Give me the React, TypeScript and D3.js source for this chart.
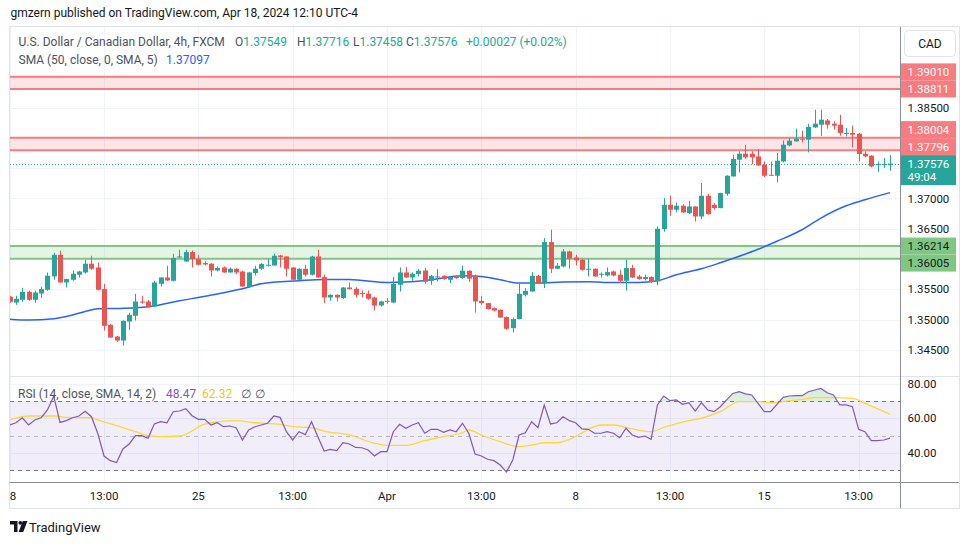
import React from 'react';
import * as d3 from 'd3';

// ---- data (USD/CAD 4h, FXCM) ----
const opens = [
  1.35376, 1.35281, 1.35326, 1.35458, 1.35326, 1.35430, 1.35491, 1.35712, 1.36070, 1.35613,
  1.35657, 1.35740, 1.35778, 1.35922, 1.35860, 1.35503, 1.34913, 1.34719, 1.34653, 1.34967,
  1.35062, 1.35298, 1.35298, 1.35215, 1.35590, 1.35695, 1.35640, 1.36026, 1.35960, 1.36115,
  1.35999, 1.35933, 1.35922, 1.35811, 1.35860, 1.35778, 1.35839, 1.35794, 1.35536, 1.35768,
  1.35839, 1.35889, 1.35893, 1.36059, 1.36042, 1.35860, 1.35657, 1.35839, 1.35740, 1.36042,
  1.35702, 1.35364, 1.35409, 1.35354, 1.35529, 1.35508, 1.35437, 1.35425, 1.35364, 1.35232,
  1.35309, 1.35281, 1.35574, 1.35778, 1.35695, 1.35751, 1.35811, 1.35640, 1.35702, 1.35723,
  1.35657, 1.35712, 1.35685, 1.35806, 1.35728, 1.35309, 1.35271, 1.35189, 1.35161, 1.35040,
  1.34858, 1.35007, 1.35409, 1.35463, 1.35723, 1.35602, 1.36280, 1.35839, 1.35877, 1.36125,
  1.36026, 1.35988, 1.35822, 1.35839, 1.35740, 1.35728, 1.35794, 1.35740, 1.35640, 1.35851,
  1.35712, 1.35669, 1.35702, 1.35629, 1.36495, 1.36896, 1.36814, 1.36880, 1.36759, 1.36868,
  1.36703, 1.37045, 1.36896, 1.36842, 1.37078, 1.37365, 1.37641, 1.37740, 1.37740, 1.37695,
  1.37558, 1.37392, 1.37376, 1.37612, 1.37877, 1.37943, 1.37988, 1.37971, 1.38174, 1.38219,
  1.38290, 1.38236, 1.38219, 1.38070, 1.38082, 1.38070, 1.37740, 1.37707, 1.37558, 1.37558,
  1.37549,
];
const highs = [
  1.35392, 1.35392, 1.35524, 1.35475, 1.35475, 1.35541, 1.35777, 1.36103, 1.36136, 1.35675,
  1.35811, 1.35806, 1.35988, 1.36054, 1.35943, 1.35590, 1.34929, 1.34730, 1.34985, 1.35111,
  1.35425, 1.35392, 1.35326, 1.35640, 1.35700, 1.35889, 1.36087, 1.36153, 1.36153, 1.36141,
  1.36070, 1.35960, 1.35933, 1.35877, 1.35877, 1.35860, 1.35847, 1.35806, 1.35789, 1.35889,
  1.35933, 1.35999, 1.36087, 1.36070, 1.36046, 1.35866, 1.35847, 1.35905, 1.36054, 1.36153,
  1.35740, 1.35417, 1.35417, 1.35536, 1.35612, 1.35536, 1.35480, 1.35480, 1.35376, 1.35309,
  1.35354, 1.35702, 1.35860, 1.35866, 1.35778, 1.35834, 1.35850, 1.35740, 1.35834, 1.35728,
  1.35712, 1.35728, 1.35889, 1.35814, 1.35740, 1.35392, 1.35276, 1.35199, 1.35166, 1.35050,
  1.35033, 1.35590, 1.35520, 1.35784, 1.35740, 1.36346, 1.36484, 1.35933, 1.36165, 1.36136,
  1.36070, 1.35999, 1.35999, 1.35847, 1.35778, 1.35860, 1.35811, 1.35822, 1.35988, 1.35905,
  1.35740, 1.35740, 1.35712, 1.36538, 1.37007, 1.37045, 1.36934, 1.36908, 1.36962, 1.36872,
  1.37255, 1.37078, 1.36924, 1.37095, 1.37384, 1.37723, 1.37778, 1.37889, 1.37778, 1.37818,
  1.37612, 1.37612, 1.37751, 1.37960, 1.37999, 1.38153, 1.38120, 1.38236, 1.38467, 1.38467,
  1.38313, 1.38274, 1.38384, 1.38164, 1.38203, 1.38082, 1.37778, 1.37715, 1.37612, 1.37669,
  1.37716,
];
const lows = [
  1.35276, 1.35243, 1.35293, 1.35309, 1.35276, 1.35359, 1.35475, 1.35657, 1.35608, 1.35530,
  1.35640, 1.35695, 1.35756, 1.35822, 1.35483, 1.34819, 1.34698, 1.34632, 1.34571, 1.34830,
  1.34984, 1.35260, 1.35200, 1.35205, 1.35546, 1.35640, 1.35629, 1.36016, 1.35955, 1.35860,
  1.35897, 1.35893, 1.35712, 1.35794, 1.35772, 1.35772, 1.35751, 1.35540, 1.35525, 1.35728,
  1.35822, 1.35877, 1.35888, 1.35860, 1.35712, 1.35652, 1.35629, 1.35712, 1.35728, 1.35690,
  1.35271, 1.35309, 1.35298, 1.35343, 1.35499, 1.35364, 1.35364, 1.35326, 1.35149, 1.35215,
  1.35260, 1.35271, 1.35463, 1.35690, 1.35640, 1.35712, 1.35590, 1.35574, 1.35629, 1.35657,
  1.35603, 1.35675, 1.35675, 1.35620, 1.35116, 1.35243, 1.35166, 1.35133, 1.35028, 1.34830,
  1.34786, 1.35004, 1.35381, 1.35458, 1.35590, 1.35520, 1.35768, 1.35834, 1.35860, 1.35839,
  1.35893, 1.35806, 1.35712, 1.35707, 1.35695, 1.35712, 1.35712, 1.35602, 1.35480, 1.35685,
  1.35657, 1.35646, 1.35602, 1.35563, 1.36451, 1.36715, 1.36770, 1.36759, 1.36743, 1.36620,
  1.36660, 1.36731, 1.36814, 1.36838, 1.37045, 1.37360, 1.37431, 1.37657, 1.37570, 1.37541,
  1.37355, 1.37371, 1.37266, 1.37596, 1.37860, 1.37943, 1.37926, 1.37761, 1.38164, 1.38037,
  1.38153, 1.38137, 1.38037, 1.38026, 1.37844, 1.37612, 1.37679, 1.37513, 1.37439, 1.37504,
  1.37458,
];
const closes = [
  1.35293, 1.35343, 1.35458, 1.35326, 1.35447, 1.35503, 1.35723, 1.36070, 1.35613, 1.35669,
  1.35756, 1.35794, 1.35922, 1.35839, 1.35491, 1.34896, 1.34703, 1.34653, 1.34979, 1.35078,
  1.35298, 1.35281, 1.35205, 1.35612, 1.35695, 1.35646, 1.36016, 1.36042, 1.36115, 1.35999,
  1.35905, 1.35910, 1.35811, 1.35851, 1.35778, 1.35839, 1.35778, 1.35546, 1.35778, 1.35839,
  1.35917, 1.35905, 1.36054, 1.36032, 1.35839, 1.35657, 1.35839, 1.35740, 1.36042, 1.35695,
  1.35364, 1.35409, 1.35364, 1.35529, 1.35503, 1.35409, 1.35425, 1.35343, 1.35232, 1.35298,
  1.35298, 1.35590, 1.35778, 1.35695, 1.35756, 1.35806, 1.35623, 1.35723, 1.35712, 1.35669,
  1.35702, 1.35685, 1.35806, 1.35675, 1.35298, 1.35271, 1.35172, 1.35149, 1.35033, 1.34847,
  1.35007, 1.35425, 1.35475, 1.35723, 1.35602, 1.36280, 1.35839, 1.35889, 1.36125, 1.36004,
  1.35976, 1.35822, 1.35839, 1.35712, 1.35756, 1.35784, 1.35728, 1.35640, 1.35851, 1.35695,
  1.35669, 1.35702, 1.35619, 1.36500, 1.36896, 1.36814, 1.36880, 1.36770, 1.36868, 1.36703,
  1.37045, 1.36743, 1.36842, 1.37090, 1.37376, 1.37652, 1.37740, 1.37679, 1.37679, 1.37546,
  1.37376, 1.37376, 1.37624, 1.37889, 1.37955, 1.37988, 1.37971, 1.38181, 1.38236, 1.38302,
  1.38219, 1.38203, 1.38082, 1.38082, 1.38054, 1.37735, 1.37695, 1.37530, 1.37570, 1.37570,
  1.37576,
];
// SMA(50) read at candle indices: [index, value]
const smaPoints: [number, number][] = [
  [0, 1.35007], [3, 1.34991], [7, 1.35012], [9, 1.35050], [12, 1.35132], [14, 1.35178],
  [17, 1.35183], [20, 1.35194], [22, 1.35211], [24, 1.35244], [27, 1.35310], [30, 1.35365],
  [33, 1.35421], [37, 1.35508], [40, 1.35591], [46, 1.35640], [50, 1.35662], [54, 1.35662],
  [56, 1.35645], [60, 1.35612], [63, 1.35619], [67, 1.35657], [72, 1.35723], [75, 1.35712],
  [78, 1.35657], [81, 1.35602], [84, 1.35602], [88, 1.35619], [92, 1.35624], [96, 1.35612],
  [100, 1.35612], [103, 1.35640], [106, 1.35740], [110, 1.35839], [113, 1.35938], [116, 1.36045],
  [119, 1.36161], [122, 1.36293], [126, 1.36483], [129, 1.36677], [133, 1.36880], [136, 1.36979],
  [140, 1.37097],
];
const rsiValues = [
  56.1, 57.4, 60.3, 56.1, 59.0, 60.3, 64.8, 72.9, 57.6, 58.6,
  60.3, 61.3, 64.0, 60.9, 51.3, 38.1, 35.4, 34.3, 42.2, 45.1,
  49.9, 49.9, 48.4, 56.7, 58.0, 57.4, 63.8, 64.2, 65.6, 61.5,
  59.4, 59.4, 56.1, 57.4, 55.1, 55.5, 54.5, 47.4, 53.2, 55.1,
  56.1, 57.1, 61.3, 60.5, 52.2, 47.4, 52.2, 50.5, 58.0, 49.3,
  41.0, 42.0, 41.2, 45.8, 45.1, 43.1, 42.9, 41.6, 38.1, 40.6,
  40.6, 52.2, 56.5, 54.2, 56.1, 57.4, 51.3, 53.6, 53.6, 51.8,
  53.2, 52.2, 57.1, 51.3, 39.3, 38.1, 36.2, 35.4, 32.9, 28.8,
  35.8, 50.3, 51.6, 58.0, 54.5, 67.7, 56.7, 57.4, 60.9, 58.6,
  57.4, 53.8, 53.6, 51.3, 51.3, 52.2, 51.3, 48.7, 54.2, 50.3,
  48.9, 49.7, 47.8, 67.7, 72.9, 70.2, 70.6, 68.1, 69.0, 64.2,
  69.0, 64.8, 63.8, 66.7, 70.6, 74.4, 75.4, 74.1, 73.5, 68.6,
  63.8, 63.8, 68.1, 72.1, 72.9, 73.1, 73.1, 75.4, 76.4, 77.3,
  74.8, 73.5, 67.7, 67.7, 66.7, 53.6, 52.2, 47.0, 47.0, 47.4,
  48.47,
];
// RSI-based SMA(14) read at candle indices
const rsiSmaPoints: [number, number][] = [
  [0, 59.0], [3, 61.3], [7, 61.3], [9, 60.5], [13, 60.3], [14, 59.0], [17, 55.7], [20, 52.2],
  [22, 49.9], [24, 49.3], [27, 49.7], [29, 52.6], [30, 55.1], [32, 57.4], [36, 58.6], [39, 57.4],
  [43, 56.5], [45, 55.1], [48, 54.5], [50, 52.6], [54, 50.3], [58, 45.5], [60, 44.3], [63, 44.3],
  [66, 47.0], [69, 49.3], [72, 51.6], [73, 53.2], [75, 50.3], [78, 46.4], [81, 43.5], [83, 44.5],
  [85, 45.8], [87, 45.8], [90, 49.3], [92, 53.6], [94, 56.1], [96, 56.1], [98, 54.7], [102, 52.2],
  [104, 54.7], [108, 58.6], [110, 60.0], [113, 63.8], [116, 69.6], [119, 69.6], [121, 69.0],
  [123, 69.6], [126, 70.9], [128, 71.9], [131, 71.9], [134, 71.5], [136, 68.6], [140, 62.3],
];
const timeTickIndex = [0, 15, 30, 45, 60, 75, 90, 105, 120, 135];
const timeTickLabels = ['18', '13:00', '25', '13:00', 'Apr', '13:00', '8', '13:00', '15', '13:00'];
const priceTicks = [1.345, 1.35, 1.355, 1.36, 1.365, 1.37, 1.375, 1.38, 1.385, 1.39];
const rsiTicks = [80, 60, 40];
const rsiLevels = [70, 50, 30];
const redZones: [number, number][] = [[1.38811, 1.39010], [1.37796, 1.38004]];
const greenZones: [number, number][] = [[1.36005, 1.36214]];
const lastPrice = 1.37576;
const countdown = '49:04';
const smaLast = '1.37097';
const rsiLast = '48.47';
const rsiSmaLast = '62.32';

const FONT = "Roboto, 'Noto Sans', 'Liberation Sans', sans-serif";
const UP = '#26a69a';
const DOWN = '#ef5350';
const GRID = '#f0f3fa';
const TEXT = '#131722';

export default function App() {
  const L = 10, R = 900, mainTop = 27, mainBottom = 376.5, rsiTop = 377, rsiBottom = 482;
  const x = d3.scaleLinear().domain([0, 140]).range([9.7, 890.1]);
  const y = d3.scaleLinear().domain([1.345, 1.385]).range([349.8, 107.7]);
  const yr = d3.scaleLinear().domain([30, 70]).range([470, 401]);
  const fmt = d3.format('.5f');

  const smaLine = d3.line<[number, number]>().x(d => x(d[0])).y(d => y(d[1])).curve(d3.curveMonotoneX);
  const rsiLine = d3.line<number>().x((d, i) => x(i)).y(d => yr(d));
  const rsiSmaLine = d3.line<[number, number]>().x(d => x(d[0])).y(d => yr(d[1])).curve(d3.curveMonotoneX);
  const rsiArea = d3.area<number>().x((d, i) => x(i)).y0(yr(70)).y1(d => yr(d));
  const rsiAreaLow = d3.area<number>().x((d, i) => x(i)).y0(yr(30)).y1(d => yr(d));

  // price-axis label layout
  const H = 17;
  const curC = y(lastPrice);
  const curTop = curC - H / 2;
  const curBottom = curTop + 30;
  type Lab = { c: number; text: string; bg: string; fg: string };
  const labs: Lab[] = [];
  const above = redZones.flat().filter(p => p > lastPrice).sort((a, b) => a - b);
  let prevTop = curTop;
  above.forEach(p => {
    let c = y(p);
    if (c + H / 2 > prevTop) c = prevTop - H / 2;
    prevTop = c - H / 2;
    labs.push({ c, text: fmt(p), bg: '#f77c80', fg: '#ffffff' });
  });
  const below = greenZones.flat().filter(p => p < lastPrice).sort((a, b) => b - a);
  let prevBottom = curBottom;
  below.forEach(p => {
    let c = y(p);
    if (c - H / 2 < prevBottom) c = prevBottom + H / 2;
    prevBottom = c + H / 2;
    labs.push({ c, text: fmt(p), bg: '#81c784', fg: TEXT });
  });
  const boxes = labs.map(l => [l.c - H / 2, l.c + H / 2]).concat([[curTop, curBottom]]);
  const visibleTicks = priceTicks.filter(t => {
    const ty = y(t);
    if (ty < mainTop + 6 || ty > mainBottom - 6) return false;
    return !boxes.some(([a, b]) => ty + 6 > a && ty - 6 < b);
  });

  return (
    <div style={{ position: 'absolute', left: 0, top: 0, width: 970, height: 545, background: '#fff' }}>
      <svg width={970} height={545} style={{ display: 'block', fontFamily: FONT }}>
        <defs>
          <clipPath id="mainClip"><rect x={L} y={mainTop} width={R - L} height={mainBottom - mainTop} /></clipPath>
          <clipPath id="rsiClip"><rect x={L} y={rsiTop} width={R - L} height={rsiBottom - rsiTop} /></clipPath>
          <clipPath id="rsiHigh"><rect x={L} y={rsiTop} width={R - L} height={yr(70) - rsiTop} /></clipPath>
          <clipPath id="rsiLow"><rect x={L} y={yr(30)} width={R - L} height={rsiBottom - yr(30)} /></clipPath>
          <clipPath id="timeClip"><rect x={L} y={rsiBottom} width={R - L} height={27} /></clipPath>
          <linearGradient id="gHigh" x1="0" y1="0" x2="0" y2="1">
            <stop offset="0%" stopColor="rgba(76,175,80,0.22)" />
            <stop offset="100%" stopColor="rgba(76,175,80,0.02)" />
          </linearGradient>
          <linearGradient id="gLow" x1="0" y1="0" x2="0" y2="1">
            <stop offset="0%" stopColor="rgba(242,54,69,0.02)" />
            <stop offset="100%" stopColor="rgba(242,54,69,0.22)" />
          </linearGradient>
        </defs>
        <rect x={0} y={0} width={970} height={545} fill="#fff" />

        {/* publisher header */}
        <text x={10.5} y={17} fontSize={12} fill={TEXT}>gmzern published on TradingView.com, Apr 18, 2024 12:10 UTC-4</text>

        {/* grid */}
        {priceTicks.map(t => (
          <line key={'pg' + t} x1={L} x2={R} y1={Math.round(y(t)) + 0.5} y2={Math.round(y(t)) + 0.5} stroke={GRID} />
        ))}
        {rsiTicks.map(t => (
          <line key={'rg' + t} x1={L} x2={R} y1={Math.round(yr(t)) + 0.5} y2={Math.round(yr(t)) + 0.5} stroke={GRID} />
        ))}
        {timeTickIndex.map(i => (
          <line key={'vg' + i} x1={Math.round(x(i)) + 0.5} x2={Math.round(x(i)) + 0.5} y1={mainTop} y2={rsiBottom} stroke={GRID} />
        ))}

        {/* main pane */}
        <g clipPath="url(#mainClip)">
          {redZones.map(([a, b], k) => (
            <g key={'rz' + k}>
              <rect x={L} width={R - L} y={y(b)} height={y(a) - y(b)} fill="rgba(247,124,128,0.2)" />
              <line x1={L} x2={R} y1={y(b)} y2={y(b)} stroke="#f77c80" strokeWidth={2} />
              <line x1={L} x2={R} y1={y(a)} y2={y(a)} stroke="#f77c80" strokeWidth={2} />
            </g>
          ))}
          {greenZones.map(([a, b], k) => (
            <g key={'gz' + k}>
              <rect x={L} width={R - L} y={y(b)} height={y(a) - y(b)} fill="rgba(129,199,132,0.2)" />
              <line x1={L} x2={R} y1={y(b)} y2={y(b)} stroke="#81c784" strokeWidth={2} />
              <line x1={L} x2={R} y1={y(a)} y2={y(a)} stroke="#81c784" strokeWidth={2} />
            </g>
          ))}
          <line x1={L} x2={R} y1={Math.round(curC) + 0.5} y2={Math.round(curC) + 0.5} stroke={UP} strokeDasharray="1,2" />
          <path d={smaLine(smaPoints) || ''} fill="none" stroke="#2962ff" strokeWidth={1.5} />
          {opens.map((o, i) => {
            const c = closes[i];
            const col = c >= o ? UP : DOWN;
            const cx = Math.round(x(i));
            const top = y(Math.max(o, c));
            const hgt = Math.max(1, Math.abs(y(o) - y(c)));
            return (
              <g key={'c' + i}>
                <line x1={cx + 0.5} x2={cx + 0.5} y1={y(highs[i])} y2={y(lows[i])} stroke={col} strokeWidth={1} />
                <rect x={cx - 2} y={top} width={5} height={hgt} fill={col} />
              </g>
            );
          })}
        </g>

        {/* main legend */}
        <text y={46} fontSize={12} fill="#4c525e">
          <tspan x={18.5}>U.S. Dollar / Canadian Dollar, 4h, FXCM</tspan>
          <tspan x={235}>O</tspan><tspan fill="#22ab94">{fmt(opens[140])}</tspan>
          <tspan x={297}>H</tspan><tspan fill="#22ab94">{fmt(highs[140])}</tspan>
          <tspan x={353}>L</tspan><tspan fill="#22ab94">{fmt(lows[140])}</tspan>
          <tspan x={406}>C</tspan><tspan fill="#22ab94">{fmt(closes[140])}</tspan>
          <tspan x={466} fill="#22ab94">+0.00027 (+0.02%)</tspan>
        </text>
        <text y={64} fontSize={12} fill="#4c525e">
          <tspan x={18.5}>SMA (50, close, 0, SMA, 5)</tspan>
          <tspan x={166} fill="#2962ff">{smaLast}</tspan>
        </text>

        {/* pane separator */}
        <line x1={L} x2={959} y1={376.5} y2={376.5} stroke="#e0e3eb" />

        {/* RSI pane */}
        <rect x={L} width={R - L} y={yr(70)} height={yr(30) - yr(70)} fill="rgba(126,87,194,0.1)" />
        {rsiLevels.map(lv => (
          <line key={'lv' + lv} x1={L} x2={R} y1={Math.round(yr(lv)) + 0.5} y2={Math.round(yr(lv)) + 0.5}
            stroke={lv === 50 ? 'rgba(120,123,134,0.5)' : '#787b86'} strokeDasharray="4,4" />
        ))}
        <g clipPath="url(#rsiClip)">
          <path d={rsiArea(rsiValues) || ''} fill="url(#gHigh)" clipPath="url(#rsiHigh)" />
          <path d={rsiAreaLow(rsiValues) || ''} fill="url(#gLow)" clipPath="url(#rsiLow)" />
          <path d={rsiSmaLine(rsiSmaPoints) || ''} fill="none" stroke="#fdd835" strokeWidth={1.3} />
          <path d={rsiLine(rsiValues) || ''} fill="none" stroke="#7e57c2" strokeWidth={1.2} />
        </g>
        <text y={397.5} fontSize={12} fill="#4c525e">
          <tspan x={18}>RSI (14, close, SMA, 14, 2)</tspan>
          <tspan x={166} fill="#7e57c2">{rsiLast}</tspan>
          <tspan x={202} fill="#e8c81a">{rsiSmaLast}</tspan>
          <tspan x={241}>∅</tspan>
          <tspan x={255}>∅</tspan>
        </text>

        {/* axes frame */}
        <line x1={L} x2={959} y1={482.5} y2={482.5} stroke="#8a8d96" />
        <line x1={900.5} x2={900.5} y1={26.5} y2={508.5} stroke="#8a8d96" />
        <rect x={9.5} y={26.5} width={950} height={482} fill="none" stroke="#e0e3eb" />

        {/* price axis */}
        {visibleTicks.map(t => (
          <text key={'pt' + t} x={907.5} y={y(t)} dy="0.35em" fontSize={11.5} fill={TEXT}>{fmt(t)}</text>
        ))}
        {labs.map((l, k) => (
          <g key={'lab' + k}>
            <rect x={901} y={l.c - H / 2} width={55} height={H} fill={l.bg} />
            <text x={907.5} y={l.c} dy="0.35em" fontSize={11.5} fill={l.fg}>{l.text}</text>
          </g>
        ))}
        <rect x={901} y={curTop} width={55} height={30} fill={UP} />
        <text x={907.5} y={curC} dy="0.35em" fontSize={11.5} fill="#fff">{fmt(lastPrice)}</text>
        <text x={907.5} y={curC + 13.5} dy="0.35em" fontSize={11.5} fill="#fff">{countdown}</text>
        <rect x={904.5} y={30.5} width={51} height={26} rx={4} fill="#fff" stroke="#e0e3eb" />
        <text x={930} y={44} dy="0.35em" textAnchor="middle" fontSize={12} fill={TEXT}>CAD</text>

        {/* RSI axis */}
        {rsiTicks.map(t => (
          <text key={'rt' + t} x={907.5} y={yr(t)} dy="0.35em" fontSize={11.5} fill={TEXT}>{d3.format('.2f')(t)}</text>
        ))}

        {/* time axis */}
        <g clipPath="url(#timeClip)">
          {timeTickIndex.map((ti, k) => (
            <text key={'tt' + ti} x={x(ti)} y={496} dy="0.35em" textAnchor="middle" fontSize={11.5} fill={TEXT}>{timeTickLabels[k]}</text>
          ))}
        </g>

        {/* TradingView logo */}
        <g fill={TEXT}>
          <path d="M10,521 H17.5 V532 H14 V524.5 H10 Z" />
          <circle cx={20.3} cy={522.8} r={1.9} />
          <path d="M22.8,521 H27.5 L23.2,532 H18.6 Z" />
          <text x={29} y={532} fontSize={13} fill={TEXT}>TradingView</text>
        </g>
      </svg>
    </div>
  );
}
